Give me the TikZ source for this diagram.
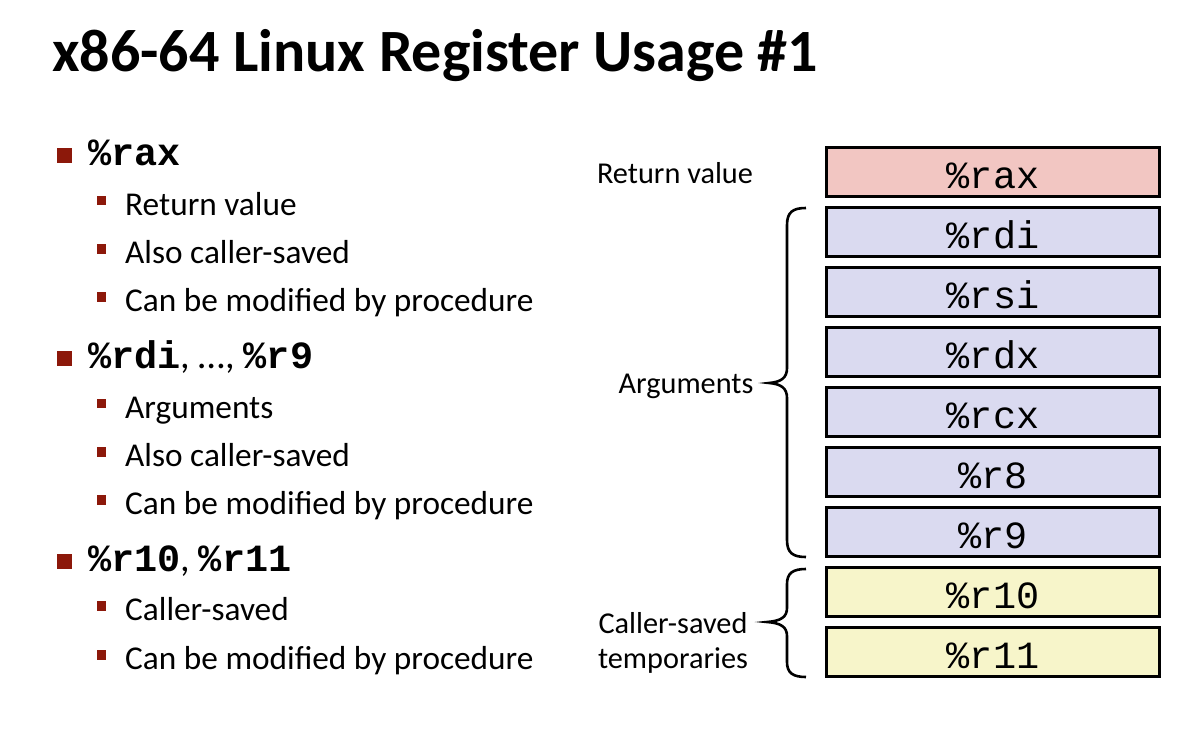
\documentclass[tikz,border=0pt]{standalone}
\usepackage{fontspec}
\setmainfont{Carlito}
\newfontfamily\regmono{Liberation Mono}
\definecolor{bulred}{RGB}{140,24,10}
\definecolor{raxfill}{RGB}{242,198,194}
\definecolor{argfill}{RGB}{218,218,240}
\definecolor{tmpfill}{RGB}{247,245,202}
\tikzset{
  x=1pt, y=-1pt,
  titletext/.style={anchor=base west, inner sep=0, font=\fontsize{60}{70}\selectfont\bfseries},
  mainitem/.style={anchor=base west, inner sep=0, font=\fontsize{38.5}{44}\selectfont},
  subitem/.style={anchor=base west, inner sep=0, font=\fontsize{33.3}{38}\selectfont},
  bigbul/.style={fill=bulred, draw=none, minimum size=15pt, inner sep=0},
  smallbul/.style={fill=bulred, draw=none, minimum size=9.5pt, inner sep=0},
  regbox/.style={draw=black, line width=3pt, minimum width=333pt, minimum height=49pt, inner sep=0},
  regtext/.style={anchor=base, inner sep=0, font=\fontsize{38.5}{40}\selectfont\regmono},
  sidelabel/.style={inner sep=0, font=\fontsize{30.3}{35}\selectfont, align=center},
  bracepath/.style={draw=black, line width=2.6pt}
}
\begin{document}
\begin{tikzpicture}
\useasboundingbox (0,0) rectangle (1189,733);
% title
\node[titletext] (title) at (52,72) {x86-64 Linux Register Usage \#1};
% left bullets
\node[bigbul] (b1) at (64.5,156) {};
\node[mainitem] (t1) at (88,166) {\regmono\bfseries \%rax};
\node[smallbul] (s11) at (101.5,200.5) {};
\node[subitem] (u11) at (125,215) {Return value};
\node[smallbul] (s12) at (101.5,249) {};
\node[subitem] (u12) at (125,263) {Also caller-saved};
\node[smallbul] (s13) at (101.5,297) {};
\node[subitem] (u13) at (125,311) {Can be modified by procedure};
\node[bigbul] (b2) at (64.5,358) {};
\node[mainitem] (t2) at (88,368) {{\regmono\bfseries \%rdi}, \ldots, {\regmono\bfseries \%r9}};
\node[smallbul] (s21) at (101.5,403.5) {};
\node[subitem] (u21) at (125,418) {Arguments};
\node[smallbul] (s22) at (101.5,452) {};
\node[subitem] (u22) at (125,466) {Also caller-saved};
\node[smallbul] (s23) at (101.5,500) {};
\node[subitem] (u23) at (125,514) {Can be modified by procedure};
\node[bigbul] (b3) at (64.5,561) {};
\node[mainitem] (t3) at (88,571) {{\regmono\bfseries \%r10}, {\regmono\bfseries \%r11}};
\node[smallbul] (s31) at (101.5,606) {};
\node[subitem] (u31) at (125,620) {Caller-saved};
\node[smallbul] (s32) at (101.5,655) {};
\node[subitem] (u32) at (125,669) {Can be modified by procedure};
% register boxes
\node[regbox, fill=raxfill] (rax) at (993,172) {};
\node[regbox, fill=argfill] (rdi) at (993,232) {};
\node[regbox, fill=argfill] (rsi) at (993,292) {};
\node[regbox, fill=argfill] (rdx) at (993,352) {};
\node[regbox, fill=argfill] (rcx) at (993,412) {};
\node[regbox, fill=argfill] (r8) at (993,472) {};
\node[regbox, fill=argfill] (r9) at (993,532) {};
\node[regbox, fill=tmpfill] (r10) at (993,592) {};
\node[regbox, fill=tmpfill] (r11) at (993,652) {};
\foreach \r/\t in {rax/\%rax, rdi/\%rdi, rsi/\%rsi, rdx/\%rdx, rcx/\%rcx, r8/\%r8, r9/\%r9, r10/\%r10, r11/\%r11}{
  \node[regtext] (\r-lbl) at ([yshift=-16pt]\r.center) {\t};
}
% side labels
\node[sidelabel, anchor=base] (lret) at (675,183) {Return value};
\node[sidelabel, anchor=base] (larg) at (686,393) {Arguments};
\node[sidelabel, anchor=base] (ltmp) at (673,668) {Caller-saved\\temporaries};
% braces
\draw[bracepath] (806,208) .. controls (793,208) and (787,212) .. (787,225) -- (787,368)
  .. controls (787,378) and (781,382) .. (769,383)
  .. controls (781,384) and (787,388) .. (787,398) -- (787,540)
  .. controls (787,553) and (793,557) .. (806,557);
\draw[bracepath] (806,569) .. controls (793,569) and (787,573) .. (787,584) -- (787,608)
  .. controls (787,617) and (781,621) .. (767,622)
  .. controls (781,623) and (787,627) .. (787,636) -- (787,662)
  .. controls (787,673) and (793,677) .. (806,677);
\end{tikzpicture}
\end{document}
